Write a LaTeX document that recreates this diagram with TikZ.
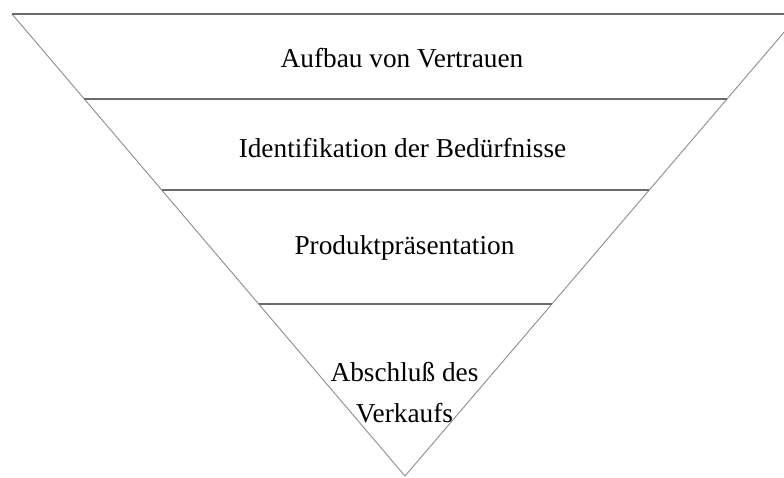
\documentclass[tikz,border=0pt]{standalone}
\usepackage{fontspec}
\setmainfont{Liberation Serif}
\usetikzlibrary{calc}
\tikzset{
  side/.style={draw=black!45, line width=0.9pt},
  level/.style={draw=black!58, line width=1.3pt},
  label/.style={anchor=base, inner sep=0pt, font=\fontsize{27.3}{41}\selectfont, align=center}
}
\begin{document}
\begin{tikzpicture}[x=1pt,y=-1pt]
\useasboundingbox (0,0) rectangle (784,477);
\clip (0,0) rectangle (784,477);
\coordinate (A) at (12,14);
\coordinate (B) at (799.6,14);
\coordinate (C) at (405,476);
\draw[side] (A) -- (C) -- (B);
\draw[level] (A) -- (B);
\coordinate (l1) at ($(A)!0.184!(C)$);
\coordinate (r1) at ($(B)!0.184!(C)$);
\coordinate (l2) at ($(A)!0.381!(C)$);
\coordinate (r2) at ($(B)!0.381!(C)$);
\coordinate (l3) at ($(A)!0.628!(C)$);
\coordinate (r3) at ($(B)!0.628!(C)$);
\draw[level] (l1) -- (r1);
\draw[level] (l2) -- (r2);
\draw[level] (l3) -- (r3);
\node[label] (t1) at (402,67) {Aufbau von Vertrauen};
\node[label] (t2) at (402.5,157) {Identifikation der Bedürfnisse};
\node[label] (t3) at (404.5,254) {Produktpräsentation};
\node[label] (t4) at (404.5,422) {Abschluß des\\Verkaufs};
\end{tikzpicture}
\end{document}
